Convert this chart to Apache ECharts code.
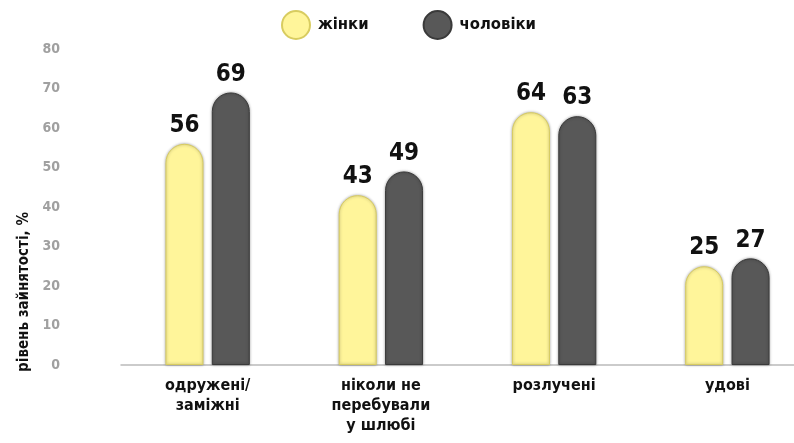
<!DOCTYPE html>
<html><head><meta charset="utf-8">
<script src="https://cdn.jsdelivr.net/npm/echarts@6/dist/echarts.min.js"></script>
<style>html,body{margin:0;padding:0;background:#fff;overflow:hidden}#c{width:814px;height:443px}</style>
</head><body><div id="c"></div>
<script>
const categories = ['одружені/\nзаміжні', 'ніколи не\nперебували\nу шлюбі', 'розлучені', 'удові'];
const women = [56, 43, 64, 25];
const men = [69, 49, 63, 27];
const seriesNames = ['жінки', 'чоловіки'];
const yTicks = {min: 0, max: 80, interval: 10};
const yTitle = 'рівень зайнятості, %';

const chart = echarts.init(document.getElementById('c'));
const cond = '"DejaVu Sans Condensed", "Roboto", sans-serif';
const barStyle = (fill, border) => ({
  color: fill, borderColor: border, borderWidth: 1,
  borderRadius: [19, 19, 0, 0],
  shadowColor: 'rgba(0,0,0,0.35)', shadowBlur: 3, shadowOffsetX: 0, shadowOffsetY: 0
});
const labelStyle = {show: true, position: 'top', distance: 6, fontSize: 24, fontWeight: 'bold', color: '#111', fontFamily: cond};
chart.setOption({
  animation: false,
  legend: {
    top: 5, left: 276, itemGap: 54, itemWidth: 28, itemHeight: 28, icon: 'circle',
    textStyle: {fontSize: 16.5, fontWeight: 'bold', color: '#111', fontFamily: cond, padding: [0,0,0,3]},
    data: seriesNames
  },
  grid: {left: 121, right: 0, top: 49, bottom: 78},
  xAxis: {
    type: 'category', data: categories,
    axisLine: {lineStyle: {color: '#bbb', width: 1.5}},
    axisTick: {show: false},
    axisLabel: {margin: 11, fontSize: 16, fontWeight: 'bold', color: '#111', lineHeight: 20, fontFamily: cond}
  },
  yAxis: {
    type: 'value', min: yTicks.min, max: yTicks.max, interval: yTicks.interval,
    splitLine: {show: false}, axisLine: {show: false}, axisTick: {show: false},
    axisLabel: {margin: 61, fontSize: 14, fontWeight: 'bold', color: '#a0a0a0', fontFamily: cond}
  },
  graphic: [{
    type: 'text', x: 24, y: 292, rotation: Math.PI / 2,
    style: {text: yTitle, fontSize: 15, fontWeight: 'bold', fill: '#111', align: 'center', verticalAlign: 'middle', fontFamily: cond}
  }],
  series: [
    {name: seriesNames[0], type: 'bar', data: women, barWidth: 38, barGap: '22%',
     itemStyle: barStyle('#fff59a', '#d8cc60'), label: labelStyle},
    {name: seriesNames[1], type: 'bar', data: men, barWidth: 38,
     itemStyle: barStyle('#585858', '#3a3a3a'), label: labelStyle}
  ]
});
</script></body></html>
